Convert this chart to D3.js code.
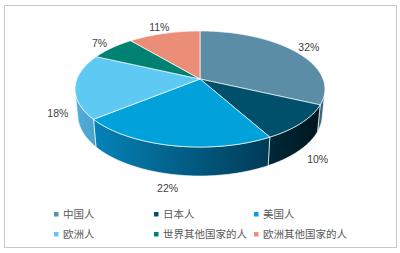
<!DOCTYPE html>
<html>
<head>
<meta charset="utf-8">
<script src="https://cdn.jsdelivr.net/npm/d3@7"></script>
<style>
  body { margin: 0; background: #fff; }
  svg { display: block; }
</style>
</head>
<body>
<svg class="piesvg" width="400" height="253"></svg>
<script>
// data
var categories = ["中国人", "日本人", "美国人", "欧洲人", "世界其他国家的人", "欧洲其他国家的人"];
var values = [32, 10, 22, 18, 7, 11];
var labels = ["32%", "10%", "22%", "18%", "7%", "11%"];

// styles
var topColors = ["#5b8ea6", "#004f6b", "#00a2d9", "#5ec9f2", "#008272", "#ec8e77"];
var wallLight = ["#416e83", "#00293a", "#0583b8", "#52aed8", "#006a5c", "#c97a66"];
var wallDark = ["#375d70", "#00161f", "#003a56", "#4aa2cb", "#005a4e", "#b86f5c"];

var svg = d3.select(".piesvg");

svg.append("rect")
    .attr("x", 4.5).attr("y", 5.5)
    .attr("width", 392).attr("height", 242)
    .attr("fill", "none")
    .attr("stroke", "#c8c8c8");

// 3d view: tilted disc with a bit of perspective
var cx = 200, cy = 79, f = 635, d = 5.16,
    sinA = 0.4575, cosA = 0.889, T = 0.238;

function proj(phi, r, h) {
    var x = r * Math.sin(phi), y = -r * Math.cos(phi);
    var v = y * sinA - h * cosA,
        w = d - y * cosA - h * sinA;
    return [cx + f * x / w, cy + f * v / w];
}

var pie = d3.pie().sort(null).value(function(d) { return d; });
var arcs = pie(values);

// front part of the side wall that faces the camera
var vis = Math.acos(-1 / (d * cosA));
var visStart = vis, visEnd = 2 * Math.PI - vis;

var defs = svg.append("defs");
var line = d3.line();

function arcPoints(a0, a1, h) {
    var n = Math.max(2, Math.ceil((a1 - a0) / 0.02));
    return d3.range(n + 1).map(function(i) { return proj(a0 + (a1 - a0) * i / n, 1, h); });
}

var g = svg.append("g");

arcs.forEach(function(a, i) {
    var a0 = Math.max(a.startAngle, visStart),
        a1 = Math.min(a.endAngle, visEnd);
    if (a1 <= a0) return;
    var grad = defs.append("linearGradient")
        .attr("id", "wall" + i)
        .attr("x1", 0).attr("x2", 1).attr("y1", 0).attr("y2", 0);
    // arc runs right to left in front, so dark side on the right
    grad.append("stop").attr("offset", 0).attr("stop-color", wallLight[i]);
    grad.append("stop").attr("offset", 1).attr("stop-color", wallDark[i]);
    var pts = arcPoints(a0, a1, 0).concat(arcPoints(a0, a1, -T).reverse());
    g.append("path")
        .attr("d", line(pts) + "Z")
        .attr("fill", "url(#wall" + i + ")")
        .attr("stroke", "#ffffff")
        .attr("stroke-opacity", 0.8)
        .attr("stroke-width", 0.8);
});

arcs.forEach(function(a, i) {
    var pts = [proj(0, 0, 0)].concat(arcPoints(a.startAngle, a.endAngle, 0));
    g.append("path")
        .attr("d", line(pts) + "Z")
        .attr("fill", topColors[i])
        .attr("stroke", "#ffffff")
        .attr("stroke-opacity", 0.85)
        .attr("stroke-width", 0.8)
        .attr("stroke-linejoin", "round");
});

// data labels
arcs.forEach(function(a, i) {
    var mid = (a.startAngle + a.endAngle) / 2;
    var h = Math.cos(mid) < 0 ? -T : 0;
    var p = proj(mid, 1.16, h);
    svg.append("text")
        .attr("x", p[0]).attr("y", p[1])
        .attr("dy", "0.35em")
        .attr("text-anchor", "middle")
        .attr("font-family", "Liberation Sans, Arial, sans-serif")
        .attr("font-size", "10.5px")
        .attr("fill", "#404040")
        .text(labels[i]);
});

// legend
var colX = d3.scaleBand().domain([0, 1, 2]).range([54, 354]);
var rowY = d3.scaleBand().domain([0, 1]).range([204, 244]);

var legend = svg.selectAll(".legend")
    .data(categories)
    .enter().append("g")
    .attr("transform", function(d, i) {
        return "translate(" + colX(i % 3) + "," + (rowY(Math.floor(i / 3)) + rowY.bandwidth() / 2) + ")";
    });

legend.append("rect")
    .attr("x", 0).attr("y", -2)
    .attr("width", 4.5).attr("height", 4.5)
    .attr("fill", function(d, i) { return topColors[i]; });

legend.append("text")
    .attr("x", 9).attr("y", 0)
    .attr("dy", "0.36em")
    .attr("font-family", "Noto Sans CJK SC, sans-serif")
    .attr("font-size", "10.5px")
    .attr("fill", "#595959")
    .text(function(d) { return d; });
</script>
</body>
</html>
